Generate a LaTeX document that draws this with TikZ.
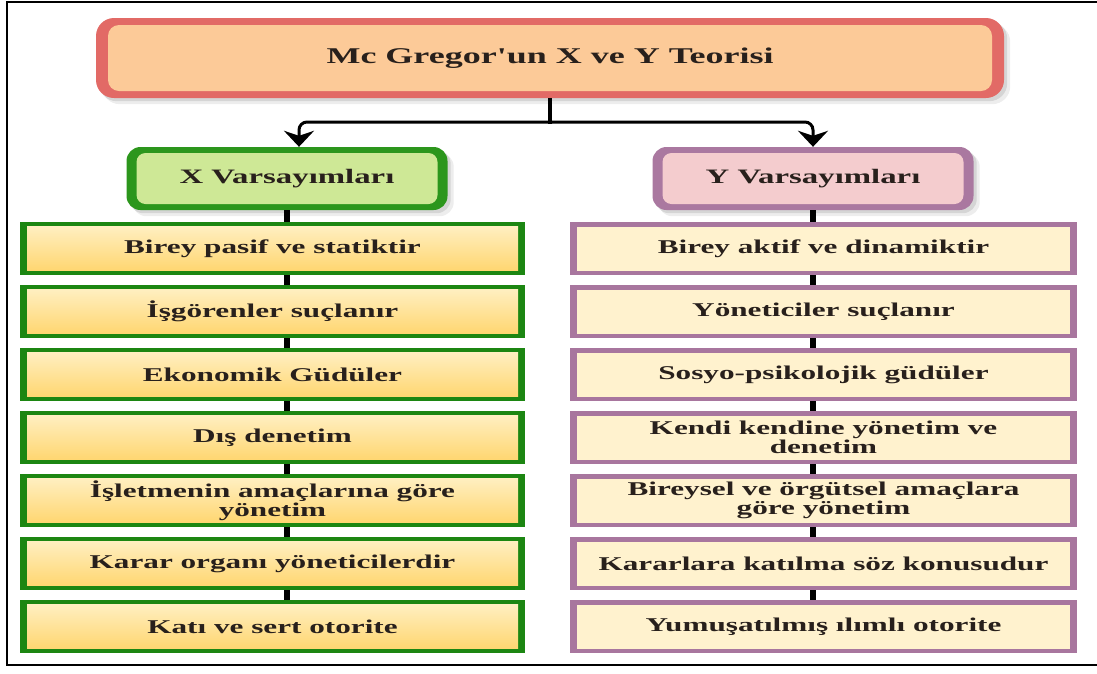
\documentclass[tikz,border=0pt]{standalone}
\usepackage{fontspec}
\setmainfont{Liberation Serif}[FakeStretch=1.6, Ligatures=TeXOff]
\usetikzlibrary{arrows.meta,backgrounds}

\definecolor{titlefill}{RGB}{252,202,152}
\definecolor{titleedge}{RGB}{226,106,102}
\definecolor{xfill}{RGB}{206,232,150}
\definecolor{xedge}{RGB}{44,150,28}
\definecolor{itemedgeL}{RGB}{28,134,18}
\definecolor{itemtopL}{RGB}{255,241,200}
\definecolor{itembotL}{RGB}{255,212,105}
\definecolor{yfill}{RGB}{244,204,206}
\definecolor{yedge}{RGB}{170,120,160}
\definecolor{itemfillR}{RGB}{255,242,206}
\definecolor{itemedgeR}{RGB}{168,118,158}
\definecolor{ink}{RGB}{40,32,28}

\tikzset{
  titlebox/.style={fill=titleedge, rounded corners=18pt, minimum width=908pt,
    minimum height=80pt, inner sep=0pt, text=ink,
    font=\fontsize{22.5}{26}\selectfont\bfseries,
    path picture={\fill[titlefill, rounded corners=11pt]
      ([shift={(12pt,7pt)}]path picture bounding box.south west) rectangle
      ([shift={(-12pt,-7pt)}]path picture bounding box.north east);}},
  headbox/.style n args={2}{fill=#2, rounded corners=14pt, minimum width=321pt,
    minimum height=63pt, inner sep=0pt, text=ink,
    font=\fontsize{20.5}{24}\selectfont\bfseries,
    path picture={\fill[#1, rounded corners=9pt]
      ([shift={(10pt,6pt)}]path picture bounding box.south west) rectangle
      ([shift={(-10pt,-6pt)}]path picture bounding box.north east);}},
  leftitem/.style={fill=itemedgeL, minimum width=505pt, minimum height=53pt,
    inner sep=0pt, align=center, text=ink,
    font=\fontsize{19.5}{19.5}\selectfont\bfseries,
    path picture={\shade[top color=itemtopL, bottom color=itembotL]
      ([shift={(7pt,4.5pt)}]path picture bounding box.south west) rectangle
      ([shift={(-7pt,-4.5pt)}]path picture bounding box.north east);}},
  rightitem/.style={fill=itemedgeR, minimum width=507pt, minimum height=53pt,
    inner sep=0pt, align=center, text=ink,
    font=\fontsize{19.5}{19.5}\selectfont\bfseries,
    path picture={\fill[itemfillR]
      ([shift={(7pt,4.5pt)}]path picture bounding box.south west) rectangle
      ([shift={(-7pt,-4.5pt)}]path picture bounding box.north east);}},
  link/.style={line width=6pt, black},
  branch/.style={line width=3pt, black, rounded corners=8pt,
    -{Stealth[length=16pt, width=30pt, inset=5pt]}},
  softshadow/.style={black, opacity=#1},
}

\begin{document}
\begin{tikzpicture}[x=1pt, y=-1pt]
\useasboundingbox (0,0) rectangle (1097,673);

% outer frame (open on the right side)
\draw[line width=2.5pt] (1110,2) -- (7,2) -- (7,665) -- (1110,665);

% title and the two assumption headers
\node[titlebox] (title) at (550,58) {Mc Gregor'un X ve Y Teorisi};
\node[headbox={xfill}{xedge}] (xh) at (287,178.5) {X Varsayımları};
\node[headbox={yfill}{yedge}] (yh) at (813,178.5) {Y Varsayımları};

% X assumptions
\node[leftitem] (l1) at (272.5,248.5) {Birey pasif ve statiktir};
\node[leftitem] (l2) at (272.5,311.5) {İşgörenler suçlanır};
\node[leftitem] (l3) at (272.5,374.5) {Ekonomik Güdüler};
\node[leftitem] (l4) at (272.5,437.5) {Dış denetim};
\node[leftitem] (l5) at (272.5,500.5) {İşletmenin amaçlarına göre\\yönetim};
\node[leftitem] (l6) at (272.5,563.5) {Karar organı yöneticilerdir};
\node[leftitem] (l7) at (272.5,626.5) {Katı ve sert otorite};

% Y assumptions
\node[rightitem] (r1) at (823.5,248.5) {Birey aktif ve dinamiktir};
\node[rightitem] (r2) at (823.5,311.5) {Yöneticiler suçlanır};
\node[rightitem] (r3) at (823.5,374.5) {Sosyo-psikolojik güdüler};
\node[rightitem] (r4) at (823.5,437.5) {Kendi kendine yönetim ve\\denetim};
\node[rightitem] (r5) at (823.5,500.5) {Bireysel ve örgütsel amaçlara\\göre yönetim};
\node[rightitem] (r6) at (823.5,563.5) {Kararlara katılma söz konusudur};
\node[rightitem] (r7) at (823.5,626.5) {Yumuşatılmış ılımlı otorite};

% soft drop shadows
\begin{scope}[on background layer]
  \foreach \n/\r in {title/18pt, xh/14pt, yh/14pt} {
    \fill[softshadow=0.10, rounded corners=\r]
      ([shift={(3pt,-3pt)}]\n.south west) rectangle ([shift={(3pt,-3pt)}]\n.north east);
    \fill[softshadow=0.07, rounded corners=\r]
      ([shift={(6pt,-6pt)}]\n.south west) rectangle ([shift={(6pt,-6pt)}]\n.north east);
  }
\end{scope}

% branches from the title
\coordinate (j) at (title.south |- 0,122);
\draw[line width=4pt] (title.south) -- ([yshift=-1.5pt]j);
\draw[branch] ([xshift=2pt]j) -| ([xshift=12pt]xh.north);
\draw[branch] ([xshift=-2pt]j) -| (yh.north);

% links down each column
\draw[link] (xh.south) -- (xh.south |- l1.north);
\draw[link] (yh.south) -- (yh.south |- r1.north);
\foreach \a/\b in {1/2,2/3,3/4,4/5,5/6,6/7} {
  \draw[link] (l\a.south -| xh.south) -- (l\b.north -| xh.south);
  \draw[link] (r\a.south -| yh.south) -- (r\b.north -| yh.south);
}
\end{tikzpicture}
\end{document}
